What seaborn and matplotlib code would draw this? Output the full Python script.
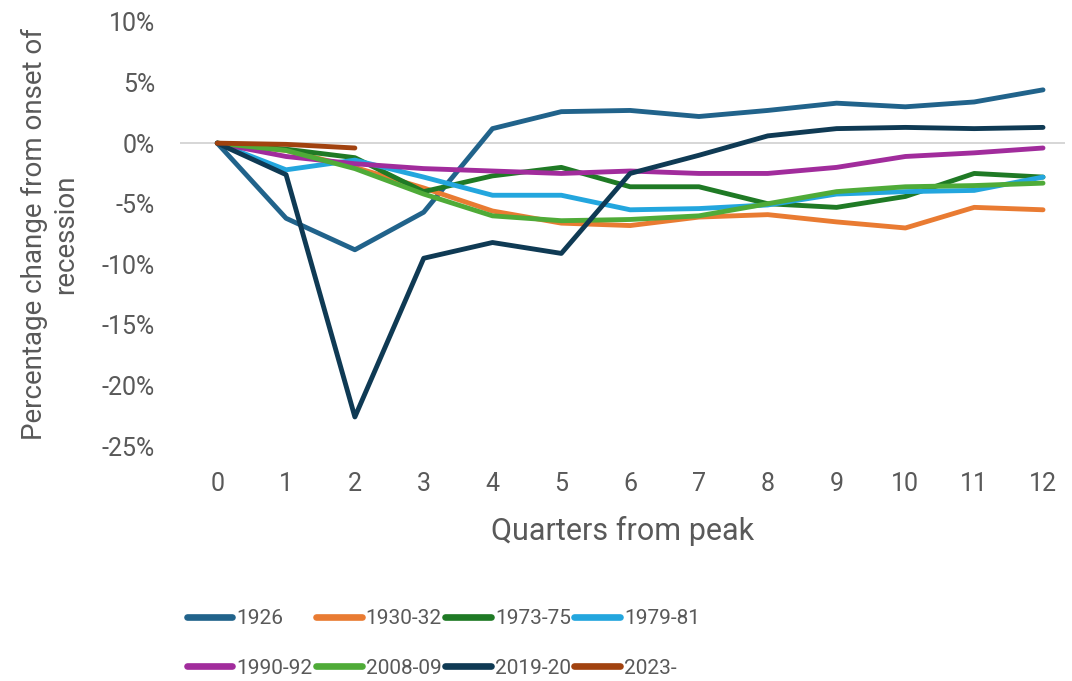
import numpy as np
import pandas as pd
import seaborn as sns
import matplotlib.pyplot as plt

# Quarters from the peak and % change per recession
quarters = list(range(13))
r1926 = [0, -6.2, -8.8, -5.7, 1.2, 2.6, 2.7, 2.2, 2.7, 3.3, 3.0, 3.4, 4.4]
r1930 = [0, -0.6, -2.0, -3.7, -5.6, -6.6, -6.8, -6.1, -5.9, -6.5, -7.0, -5.3, -5.5]
r1973 = [0, -0.5, -1.2, -4.0, -2.7, -2.0, -3.6, -3.6, -5.0, -5.3, -4.4, -2.5, -2.8]
r1979 = [0, -2.2, -1.4, -2.8, -4.3, -4.3, -5.5, -5.4, -5.1, -4.2, -4.0, -3.9, -2.8]
r1990 = [0, -1.1, -1.7, -2.1, -2.3, -2.5, -2.3, -2.5, -2.5, -2.0, -1.1, -0.8, -0.4]
r2008 = [0, -0.6, -2.1, -4.2, -6.0, -6.4, -6.3, -6.0, -5.0, -4.0, -3.6, -3.5, -3.3]
r2019 = [0, -2.6, -22.6, -9.5, -8.2, -9.1, -2.5, -1.0, 0.6, 1.2, 1.3, 1.2, 1.3]
r2023 = [0, -0.1, -0.4]

series = {
    '1926': r1926,
    '1930-32': r1930,
    '1973-75': r1973,
    '1979-81': r1979,
    '1990-92': r1990,
    '2008-09': r2008,
    '2019-20': r2019,
    '2023-': r2023,
}
colors = ['#21638b', '#e97b32', '#1f7a25', '#23a6de', '#a12c9c', '#4fab38', '#0f3a54', '#a1420f']

yticks = [10, 5, 0, -5, -10, -15, -20, -25]
ytick_labels = ['10%', '5%', '0%', '-5%', '-10%', '-15%', '-20%', '-25%']

rows = []
for name, vals in series.items():
    for q, v in zip(quarters, vals):
        rows.append({'quarter': q, 'change': v, 'recession': name})
df = pd.DataFrame(rows)

sns.set_style('white')
plt.rcParams['font.family'] = ['Roboto', 'DejaVu Sans']
grey = '#595959'

fig = plt.figure(figsize=(10.72, 6.81), dpi=100)
ax = fig.add_axes([0.168, 0.345, 0.8255, 0.6227])

ax.axhline(0, color='#d0d0d0', lw=1.2, zorder=0)
sns.lineplot(data=df, x='quarter', y='change', hue='recession',
             palette=dict(zip(series.keys(), colors)), lw=3.5,
             solid_capstyle='round', ax=ax, legend=False)

ax.set_xlim(-0.54, 12.32)
ax.set_ylim(-25, 10)
ax.set_xticks(quarters)
ax.set_xticklabels([str(q) for q in quarters])
ax.set_yticks(yticks)
ax.set_yticklabels(ytick_labels)
ax.tick_params(axis='both', length=0, labelsize=18, labelcolor=grey)
ax.tick_params(axis='y', pad=18)
ax.tick_params(axis='x', pad=19)
for s in ax.spines.values():
    s.set_visible(False)

ax.set_xlabel('Quarters from peak', fontsize=22, color=grey, labelpad=14)
ax.set_ylabel('Percentage change from onset of\nrecession', fontsize=20,
              color=grey, labelpad=16)

# Excel fills the legend row by row, matplotlib column by column
names = list(series.keys())
order = [0, 4, 1, 5, 2, 6, 3, 7]
handles = [plt.Line2D([], [], color=colors[i], lw=4.8, solid_capstyle='round') for i in order]
fig.legend(handles, [names[i] for i in order], ncol=4, loc='lower left',
           bbox_to_anchor=(0.174, 0.005), frameon=False, fontsize=15,
           labelcolor=grey, handlelength=2.2, handletextpad=0.2,
           columnspacing=0.15, labelspacing=1.45, borderpad=0, borderaxespad=0)

fig.savefig('out.png', dpi=100)
